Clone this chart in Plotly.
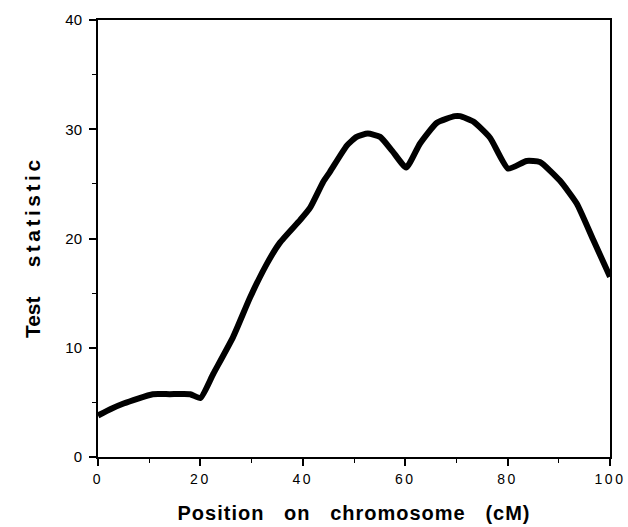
import plotly.graph_objects as go

position_cM = [0, 2.5, 5, 10.7, 14, 18, 20, 22.5, 26.4, 29.7, 33.0, 35.5, 39.5, 41.4, 44.0,
               45.3, 48.6, 50.5, 52.7, 55.1, 57.5, 60.2, 62.9, 66.2, 69.7, 70.7, 73.3,
               76.6, 80.1, 83.7, 86.3, 90.2, 93.5, 96.7, 100]
test_statistic = [3.8, 4.4, 4.9, 5.75, 5.75, 5.75, 5.4, 7.6, 11.0, 14.6, 17.7, 19.6, 21.7, 22.8, 25.2,
                  26.1, 28.5, 29.3, 29.6, 29.3, 28.0, 26.5, 28.7, 30.6, 31.2, 31.2, 30.7,
                  29.2, 26.4, 27.1, 27.0, 25.3, 23.2, 19.9, 16.5]
x_tick_values = [0, 20, 40, 60, 80, 100]
x_tick_labels = ["0", "20", "40", "60", "80", "100"]
y_tick_values = [0, 10, 20, 30, 40]

fig = go.Figure()
fig.add_trace(go.Scatter(x=position_cM, y=test_statistic, mode="lines",
                         line=dict(color="black", width=6, shape="spline", smoothing=0.5),
                         showlegend=False))

font = "Liberation Sans, Arial, sans-serif"
x_ticktext = ['<span style="letter-spacing:2.5px">%s</span>' % t for t in x_tick_labels]

fig.update_layout(
    width=628, height=527,
    margin=dict(l=98, r=18, t=20, b=70),
    paper_bgcolor="white", plot_bgcolor="white",
    font=dict(family=font, color="black", size=15),
    xaxis=dict(range=[0, 100], tickvals=x_tick_values, ticktext=x_ticktext, automargin=False,
               ticks="outside", ticklen=7, tickwidth=1.5, tickcolor="black",
               minor=dict(tickvals=[10, 30, 50, 70, 90], ticks="outside", ticklen=4, tickwidth=1.2, tickcolor="black"),
               showline=True, linecolor="black", linewidth=2, mirror=True,
               showgrid=False, zeroline=False, ticklabelstandoff=1,
               tickfont=dict(size=14, family=font),
               title=dict(text='<b><span style="letter-spacing:1px">Position&nbsp;&nbsp; on&nbsp;&nbsp; chromosome&nbsp;&nbsp; (cM)</span></b>',
                          font=dict(size=20, family=font), standoff=20)),
    yaxis=dict(range=[0, 40], tickvals=y_tick_values, automargin=False,
               ticks="outside", ticklen=7, tickwidth=1.5, tickcolor="black",
               minor=dict(tickvals=[5, 15, 25, 35], ticks="outside", ticklen=4, tickwidth=1.2, tickcolor="black"),
               showline=True, linecolor="black", linewidth=2, mirror=True,
               showgrid=False, zeroline=False, ticklabelstandoff=4,
               tickfont=dict(size=15, family=font),
               title=dict(text='<b>Test&nbsp;&nbsp;&nbsp;&nbsp; <span style="letter-spacing:3.5px">statistic</span>&nbsp;&nbsp;&nbsp;</b>',
                          font=dict(size=21, family=font), standoff=19)),
)

fig.write_html("out.html", config={"displayModeBar": False},
               post_script="document.body.style.margin='0';document.body.style.overflow='hidden';")
